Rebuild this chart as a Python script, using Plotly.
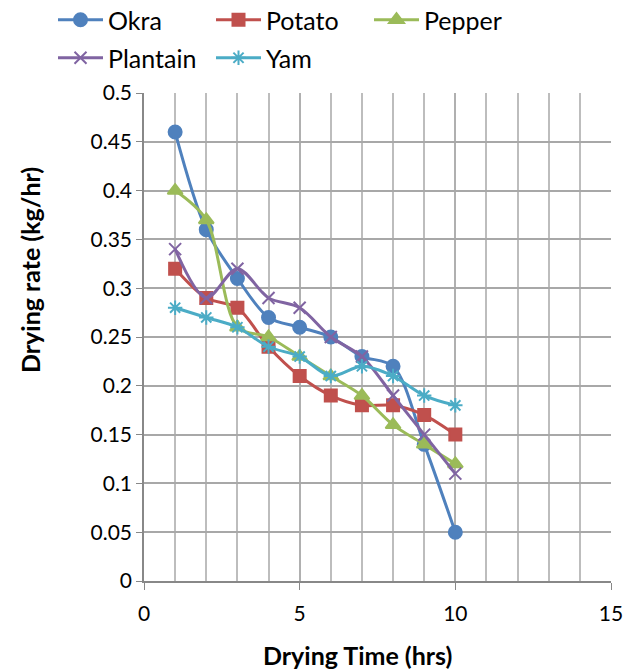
import plotly.graph_objects as go

time_hrs = [1, 2, 3, 4, 5, 6, 7, 8, 9, 10]
okra = [0.46, 0.36, 0.31, 0.27, 0.26, 0.25, 0.23, 0.22, 0.14, 0.05]
potato = [0.32, 0.29, 0.28, 0.24, 0.21, 0.19, 0.18, 0.18, 0.17, 0.15]
pepper = [0.40, 0.37, 0.26, 0.25, 0.23, 0.21, 0.19, 0.16, 0.14, 0.12]
plantain = [0.34, 0.29, 0.32, 0.29, 0.28, 0.25, 0.23, 0.19, 0.15, 0.11]
yam = [0.28, 0.27, 0.26, 0.24, 0.23, 0.21, 0.22, 0.21, 0.19, 0.18]

x_title = "Drying Time (hrs)"
y_title = "Drying rate (kg/hr)"

series = [
    ("Okra", okra, "#4F81BD", "circle", 13),
    ("Potato", potato, "#C0504D", "square", 12),
    ("Pepper", pepper, "#9BBB59", "triangle-up", 13),
    ("Plantain", plantain, "#8064A2", "x-thin-open", 12),
    ("Yam", yam, "#4BACC6", "asterisk-open", 12),
]

W, H = 642, 669
ML, MR, MT, MB = 144, 31, 93, 88
PW, PH = W - ML - MR, H - MT - MB
# legend placement in pixels (left x, vertical centre y)
legend_pos = [(53, 20), (211, 20), (369, 20), (53, 58), (211, 58)]

FONT = "Lato, Carlito, Calibri, sans-serif"
FS_TICK = 21
FS_LEG = 25
FS_TITLE = 25


def px_to_paper_x(px):
    return (px - ML) / PW


def px_to_paper_y(py):
    return (H - MB - py) / PH


fig = go.Figure()
layout_legends = {}
for i, (name, vals, color, sym, size) in enumerate(series):
    key = "legend" if i == 0 else f"legend{i + 1}"
    fig.add_trace(go.Scatter(
        x=time_hrs, y=vals, name=name, mode="lines+markers",
        line=dict(color=color, width=3, shape="spline", smoothing=0.9),
        marker=dict(symbol=sym, size=size, color=color,
                    line=dict(color=color, width=2)),
        legend=key, showlegend=True,
    ))
    lx, ly = legend_pos[i]
    layout_legends[key] = dict(
        xref="paper", yref="container", orientation="h",
        x=px_to_paper_x(lx), y=1 - ly / H, xanchor="left", yanchor="middle",
        itemwidth=45, font=dict(size=FS_LEG), bgcolor="rgba(0,0,0,0)",
    )

fig.add_annotation(
    text=f"<b>{x_title}</b>", xref="paper", yref="paper",
    x=px_to_paper_x(357), y=px_to_paper_y(655),
    xanchor="center", yanchor="middle", showarrow=False,
    font=dict(size=FS_TITLE, family=FONT, color="#000000"),
)
fig.add_annotation(
    text=f"<b>{y_title}</b>", xref="paper", yref="paper",
    x=px_to_paper_x(30), y=px_to_paper_y(270), textangle=-90,
    xanchor="center", yanchor="middle", showarrow=False,
    font=dict(size=FS_TITLE, family=FONT, color="#000000"),
)

fig.update_layout(
    width=W, height=H,
    margin=dict(l=ML, r=MR, t=MT, b=MB),
    paper_bgcolor="white", plot_bgcolor="white",
    font=dict(family=FONT, size=FS_TICK, color="#000000"),
    showlegend=True,
    xaxis=dict(
        range=[0, 15], tickvals=[0, 5, 10, 15], showgrid=True,
        gridcolor="#b0b0b0", gridwidth=1.5,
        minor=dict(dtick=1, showgrid=True, gridcolor="#bdbdbd", gridwidth=1.5),
        showline=True, linecolor="#888888", linewidth=1.5,
        ticks="outside", ticklen=7, tickcolor="#888888",
        ticklabelstandoff=6, automargin=False,
        zeroline=False,
        tickfont=dict(size=FS_TICK),
    ),
    yaxis=dict(
        range=[0, 0.5], dtick=0.05, tickformat="~g", showgrid=True,
        gridcolor="#a8a8a8", gridwidth=1.5,
        showline=True, linecolor="#888888", linewidth=1.5,
        ticks="outside", ticklen=6, tickcolor="#888888",
        automargin=False, zeroline=False,
        tickfont=dict(size=FS_TICK),
    ),
    **layout_legends,
)

fig.write_html("out.html")
